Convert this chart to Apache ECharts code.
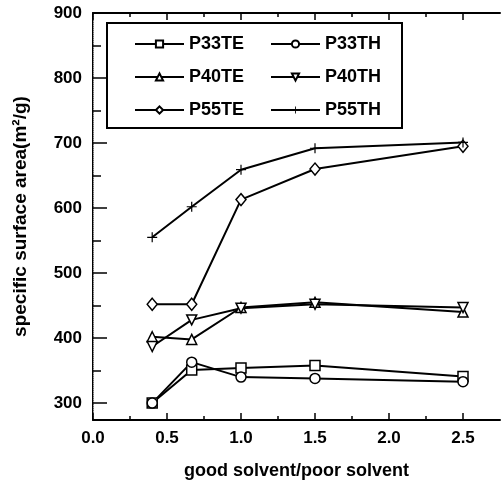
<!DOCTYPE html>
<html>
<head>
<meta charset="utf-8">
<script src="https://cdn.jsdelivr.net/npm/echarts@6/dist/echarts.min.js"></script>
<style>
  html, body { margin: 0; padding: 0; background: #fff; }
  #chart { width: 501px; height: 485px; }
</style>
</head>
<body>
<div id="chart"></div>
<script>
const ratio = [0.4, 0.667, 1.0, 1.5, 2.5];

const p33te = [300, 351, 354, 358, 341];
const p33th = [300, 363, 340, 338, 333];
const p40te = [402, 398, 447, 455, 440];
const p40th = [387, 428, 446, 452, 447];
const p55te = [452, 452, 613, 660, 695];
const p55th = [555, 602, 659, 692, 701];

const xMajor = [0, 0.5, 1.0, 1.5, 2.0, 2.5];
const xMinor = [0.25, 0.75, 1.25, 1.75, 2.25];
const yMajor = [300, 400, 500, 600, 700, 800, 900];
const yMinor = [350, 450, 550, 650, 750, 850];

const font = 'Liberation Sans, Arial, sans-serif';
const crossPath = 'path://M4.4,0h1.2v4.4h4.4v1.2h-4.4v4.4h-1.2v-4.4h-4.4v-1.2h4.4z';

const pairs = (ys) => ratio.map((x, i) => [x, ys[i]]);

const mkSeries = (name, ys, symbol, opts) => Object.assign({
    name: name,
    type: 'line',
    data: pairs(ys),
    symbol: symbol,
    symbolSize: 10,
    lineStyle: { color: '#000', width: 2 },
    itemStyle: { color: '#fff', borderColor: '#000', borderWidth: 1.5 },
    z: 3
}, opts || {});

// axis carrying line + labels, no ticks
const xLabelAxis = (pos, showLabel) => ({
    type: 'value', position: pos, min: 0, max: 2.75,
    axisLine: { show: true, lineStyle: { color: '#000', width: 2 } },
    axisTick: { show: false },
    axisLabel: {
        show: showLabel, customValues: xMajor,
        formatter: (v) => v.toFixed(1),
        color: '#000', fontFamily: font, fontWeight: 'bold', fontSize: 17, margin: 10
    },
    splitLine: { show: false }
});

// tick-only axis shifted into the plot so outward ticks end on the frame
const xTickAxis = (pos, values, len) => ({
    type: 'value', position: pos, min: 0, max: 2.75, offset: -len,
    axisLine: { show: false },
    axisTick: { show: true, inside: false, length: len, customValues: values, lineStyle: { color: '#000', width: 1.5 } },
    axisLabel: { show: false },
    splitLine: { show: false }
});

const yLabelAxis = (pos, showLabel, lineStyle) => ({
    type: 'value', position: pos, min: 274, max: 900,
    axisLine: { show: true, lineStyle: lineStyle },
    axisTick: { show: false },
    axisLabel: {
        show: showLabel, customValues: yMajor,
        color: '#000', fontFamily: font, fontWeight: 'bold', fontSize: 17, margin: 11
    },
    splitLine: { show: false }
});

const yTickAxis = (pos, values, len) => ({
    type: 'value', position: pos, min: 274, max: 900, offset: -len,
    axisLine: { show: false },
    axisTick: { show: true, inside: false, length: len, customValues: values, lineStyle: { color: '#000', width: 1.5 } },
    axisLabel: { show: false },
    splitLine: { show: false }
});

const xMain = xLabelAxis('bottom', true);
xMain.name = 'good solvent/poor solvent';
xMain.nameLocation = 'middle';
xMain.nameGap = 42;
xMain.nameTextStyle = { color: '#000', fontFamily: font, fontWeight: 'bold', fontSize: 18 };

const yMain = yLabelAxis('left', true, { color: '#000', width: 2 });
yMain.name = 'specific surface area(m²/g)';
yMain.nameLocation = 'middle';
yMain.nameGap = 63;
yMain.nameTextStyle = { color: '#000', fontFamily: font, fontWeight: 'bold', fontSize: 19 };

const legendText = { color: '#000', fontFamily: font, fontWeight: 'bold', fontSize: 18 };

const option = {
    backgroundColor: '#fff',
    animation: false,
    grid: { left: 93, top: 13, right: 1, bottom: 64, containLabel: false },
    xAxis: [
        xMain,
        xTickAxis('bottom', xMajor, 7),
        xTickAxis('bottom', xMinor, 4),
        xLabelAxis('top', false),
        xTickAxis('top', xMajor, 7),
        xTickAxis('top', xMinor, 4)
    ],
    yAxis: [
        yMain,
        yTickAxis('left', yMajor, 7),
        yTickAxis('left', yMinor, 4),
        yLabelAxis('right', false, { color: '#aaa', width: 1, type: 'dotted' }),
        yTickAxis('right', yMajor, 7),
        yTickAxis('right', yMinor, 4)
    ],
    legend: [
        {
            data: ['P33TE', 'P40TE', 'P55TE'],
            orient: 'vertical',
            left: 129,
            top: 30,
            itemWidth: 49,
            itemHeight: 9,
            itemGap: 15,
            textStyle: legendText
        },
        {
            data: ['P33TH', 'P40TH', 'P55TH'],
            orient: 'vertical',
            left: 265,
            top: 30,
            itemWidth: 49,
            itemHeight: 9,
            itemGap: 15,
            textStyle: legendText
        }
    ],
    graphic: [
        {
            type: 'rect',
            shape: { x: 107, y: 23, width: 295, height: 105 },
            style: { fill: 'none', stroke: '#000', lineWidth: 2 },
            z: 10
        }
    ],
    series: [
        mkSeries('P33TE', p33te, 'rect'),
        mkSeries('P33TH', p33th, 'circle'),
        mkSeries('P40TE', p40te, 'triangle'),
        mkSeries('P40TH', p40th, 'triangle', { symbolRotate: 180 }),
        mkSeries('P55TE', p55te, 'diamond', { symbolSize: [10, 12] }),
        mkSeries('P55TH', p55th, crossPath, { itemStyle: { color: '#000', borderWidth: 0 } })
    ]
};

const chart = echarts.init(document.getElementById('chart'));
chart.setOption(option);
</script>
</body>
</html>
